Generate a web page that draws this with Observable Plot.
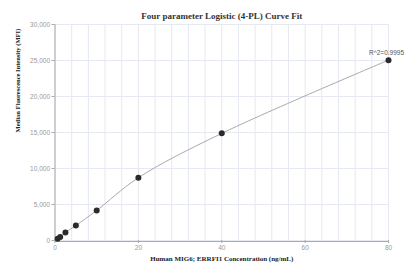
<!DOCTYPE html>
<html>
<head>
<meta charset="utf-8">
<script src="https://cdn.jsdelivr.net/npm/d3@7"></script>
<script src="https://cdn.jsdelivr.net/npm/@observablehq/plot@0.6"></script>
<style>
  html, body { margin: 0; padding: 0; background: #fff; }
</style>
</head>
<body>
<div id="chart"></div>
<script>
const concentration = [0.625, 1.25, 2.5, 5, 10, 20, 40, 80];
const mfi = [230, 480, 1110, 2080, 4170, 8720, 14880, 25050];
const xTicks = [0, 20, 40, 60, 80];
const xGrid = [0, 4, 8, 12, 16, 20, 24, 28, 32, 36, 40, 44, 48, 52, 56, 60, 64, 68, 72, 76, 80];
const yTicks = [0, 5000, 10000, 15000, 20000, 25000, 30000];
const titleText = "Four parameter Logistic (4-PL) Curve Fit";
const xLabel = "Human MIG6; ERRFI1 Concentration (ng/mL)";
const yLabel = "Median Fluorescence Intensity (MFI)";
const r2Label = "R^2=0.9995";

const data = concentration.map((c, i) => ({x: c, y: mfi[i]}));
const last = data[data.length - 1];
const fmt = d3.format(",");

const chart = Plot.plot({
  width: 405,
  height: 271,
  marginLeft: 54.5,
  marginRight: 17,
  marginTop: 24,
  marginBottom: 31,
  style: {fontFamily: "Arial, 'Liberation Sans', sans-serif", background: "#fff", overflow: "hidden"},
  x: {domain: [0, 80], label: null},
  y: {domain: [0, 30000], label: null},
  marks: [
    Plot.ruleX(xGrid, {stroke: "#e6e8f2", strokeWidth: 1}),
    Plot.ruleY(yTicks, {stroke: "#e6e8f2", strokeWidth: 1}),
    Plot.axisX({ticks: xTicks, tickSize: 3, tickFormat: d => d, fontSize: 6.5, fill: "#999", stroke: "#aaa", tickPadding: 2, label: null}),
    Plot.axisY({ticks: yTicks, tickSize: 3, tickFormat: fmt, fontSize: 6.5, fill: "#999", stroke: "#aaa", tickPadding: 2, label: null}),
    Plot.ruleX([0], {stroke: "#aaa", strokeWidth: 1}),
    Plot.ruleY([0], {stroke: "#aaa", strokeWidth: 1, dy: 1}),
    Plot.line(data, {x: "x", y: "y", stroke: "#aaa", strokeWidth: 1, curve: "catmull-rom"}),
    Plot.dot(data, {x: "x", y: "y", r: 3, fill: "#2b2b2b", stroke: "none"}),
    Plot.text([last], {x: "x", y: "y", text: () => r2Label, dy: -7, dx: -2, fontSize: 6.5, fill: "#555", textAnchor: "middle"}),
    Plot.text([titleText], {frameAnchor: "top", dy: -12, text: d => d, fontSize: 9, fontWeight: "bold", fontFamily: "'Liberation Serif', 'Times New Roman', serif", fill: "#333"}),
    Plot.text([xLabel], {frameAnchor: "bottom", dy: 20, text: d => d, fontSize: 7, fontWeight: "bold", fontFamily: "'Liberation Serif', 'Times New Roman', serif", fill: "#222"}),
    Plot.text([yLabel], {frameAnchor: "left", dx: -37, rotate: -90, text: d => d, fontSize: 6.5, fontWeight: "bold", fontFamily: "'Liberation Serif', 'Times New Roman', serif", fill: "#222"})
  ]
});
document.getElementById("chart").appendChild(chart);
</script>
</body>
</html>
